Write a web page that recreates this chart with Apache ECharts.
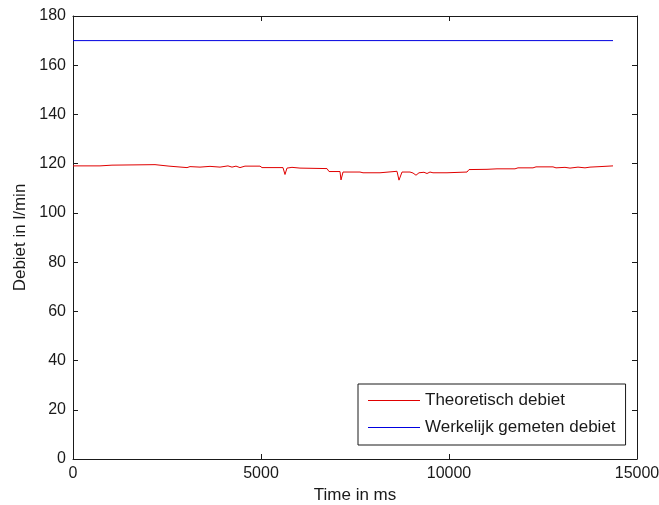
<!DOCTYPE html>
<html>
<head>
<meta charset="utf-8">
<script src="https://cdn.jsdelivr.net/npm/echarts@6/dist/echarts.min.js"></script>
<style>
  html, body { margin: 0; padding: 0; background: #fff; }
  #chart { width: 659px; height: 505px; }
</style>
</head>
<body>
<div id="chart"></div>
<script>
// Time axis (ms) for the theoretical flow trace
const timeMs = [
  0, 718, 745, 1037, 1064, 2181, 2234, 2553, 2606, 3032,
  3112, 3378, 3644, 3910, 4122, 4229, 4335, 4441, 4574, 4973,
  5027, 5585, 5638, 5691, 5824, 6037, 6755, 6809, 7101, 7128,
  7181, 7633, 7713, 8165, 8218, 8617, 8670, 8750, 8963, 9043,
  9122, 9202, 9255, 9335, 9415, 9495, 9574, 9947, 10000, 10479,
  10532, 11011, 11277, 11755, 11835, 12234, 12314, 12766, 12846, 13085,
  13218, 13431, 13617, 13750, 14016, 14362
];
// Theoretical flow (l/min)
const theoretischDebiet = [
  119.1, 119.1, 119.4, 119.4, 119.6, 119.6, 119.0, 119.0, 118.4, 118.4,
  118.8, 118.6, 118.9, 118.6, 119.1, 118.6, 119.0, 118.4, 119.0, 119.0,
  118.4, 118.4, 115.6, 118.2, 118.5, 118.2, 118.0, 116.8, 116.8, 113.4,
  116.6, 116.6, 116.3, 116.3, 116.9, 116.9, 113.3, 116.6, 116.6, 116.2,
  115.3, 116.3, 116.0, 116.5, 116.0, 116.6, 116.3, 116.3, 116.6, 116.6,
  117.6, 117.7, 117.9, 117.9, 118.3, 118.3, 118.7, 118.7, 118.3, 118.5,
  118.2, 118.6, 118.3, 118.6, 118.8, 119.1
];
// Measured flow (l/min), constant over the run
const gemetenTijd = [0, 14362];
const gemetenDebiet = [170, 170];

const xTicks = { min: 0, max: 15000, interval: 5000 };
const yTicks = { min: 0, max: 180, interval: 20 };

const FONT = 'Liberation Sans';
const INK = '#1a1a1a';

const pair = (xs, ys) => xs.map((x, i) => [x, ys[i]]);
const plain = v => String(v);

const baseAxis = {
  axisLine: { show: true, onZero: false, lineStyle: { color: INK, width: 1 } },
  axisTick: { show: true, inside: true, length: 5, lineStyle: { color: INK } },
  splitLine: { show: false },
  axisLabel: { color: INK, fontFamily: FONT, fontSize: 16, formatter: plain }
};

const chart = echarts.init(document.getElementById('chart'), null, { renderer: 'canvas' });
chart.setOption({
  backgroundColor: '#ffffff',
  animation: false,
  grid: {
    left: 73, right: 22, top: 16, bottom: 46,
    containLabel: false, outerBoundsMode: 'none'
  },
  xAxis: [
    Object.assign({}, baseAxis, {
      type: 'value', position: 'bottom', ...xTicks,
      name: 'Time in ms', nameLocation: 'middle', nameGap: 27,
      nameTextStyle: { color: INK, fontFamily: FONT, fontSize: 17 },
      axisLabel: Object.assign({}, baseAxis.axisLabel, { margin: 7 })
    }),
    Object.assign({}, baseAxis, {
      type: 'value', position: 'top', ...xTicks,
      axisLabel: { show: false }
    })
  ],
  yAxis: [
    Object.assign({}, baseAxis, {
      type: 'value', position: 'left', ...yTicks,
      name: 'Debiet in l/min', nameLocation: 'middle', nameGap: 44,
      nameTextStyle: { color: INK, fontFamily: FONT, fontSize: 17 },
      axisLabel: Object.assign({}, baseAxis.axisLabel, { margin: 7 })
    }),
    Object.assign({}, baseAxis, {
      type: 'value', position: 'right', ...yTicks,
      axisLabel: { show: false }
    })
  ],
  legend: {
    orient: 'vertical',
    left: 358, top: 384,
    padding: [8, 10, 9, 10],
    itemWidth: 52, itemHeight: 14, itemGap: 10,
    backgroundColor: '#ffffff',
    borderColor: INK, borderWidth: 1, borderRadius: 0,
    textStyle: { color: INK, fontFamily: FONT, fontSize: 17 },
    data: [
      { name: 'Theoretisch debiet', icon: 'path://M0,0 L52,0 L52,1 L0,1 Z' },
      { name: 'Werkelijk gemeten debiet', icon: 'path://M0,0 L52,0 L52,1 L0,1 Z' }
    ]
  },
  series: [
    {
      name: 'Theoretisch debiet', type: 'line',
      data: pair(timeMs, theoretischDebiet),
      showSymbol: false, symbol: 'none',
      lineStyle: { color: '#e00000', width: 1 },
      itemStyle: { color: '#e00000' }
    },
    {
      name: 'Werkelijk gemeten debiet', type: 'line',
      data: pair(gemetenTijd, gemetenDebiet),
      showSymbol: false, symbol: 'none',
      lineStyle: { color: '#0000e0', width: 1 },
      itemStyle: { color: '#0000e0' }
    }
  ]
});
</script>
</body>
</html>
